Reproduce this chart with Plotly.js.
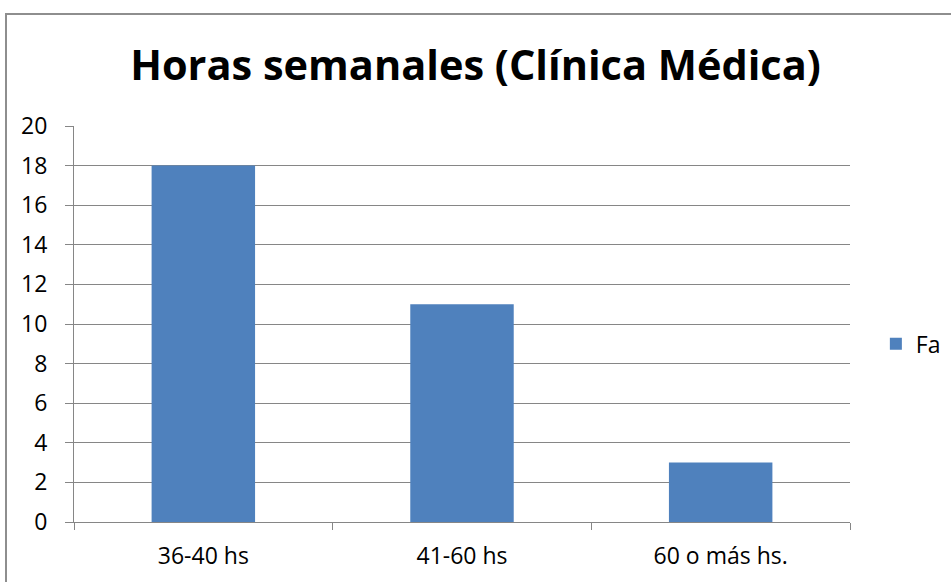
<!DOCTYPE html>
<html>
<head>
<meta charset="utf-8">
<script src="https://cdn.plot.ly/plotly-3.0.1.min.js"></script>
<style>
html,body{margin:0;padding:0;background:#fff;overflow:hidden;}
#wrap{position:relative;width:951px;height:582px;}
#chart{position:absolute;left:0;top:0;width:951px;height:582px;}
#frame{position:absolute;left:5px;top:13px;width:1000px;height:1000px;border:2px solid #8e8e8e;pointer-events:none;}
</style>
</head>
<body>
<div id="wrap">
<div id="chart"></div>
<div id="frame"></div>
</div>
<script>
const categories = ["36-40 hs", "41-60 hs", "60 o más hs."];
const faValues = [18, 11, 3];
const yTicks = [0, 2, 4, 6, 8, 10, 12, 14, 16, 18, 20];
const seriesName = "Fa";
const chartTitle = "Horas semanales (Clínica Médica)";

const fontFam = "Open Sans, Liberation Sans, sans-serif";

Plotly.newPlot("chart", [{
  type: "bar",
  x: categories,
  y: faValues,
  name: seriesName,
  marker: {color: "#4F81BD"},
  width: 0.4,
  showlegend: true
}], {
  width: 951, height: 582,
  paper_bgcolor: "rgba(0,0,0,0)",
  plot_bgcolor: "#fff",
  margin: {l: 74, r: 101, t: 126, b: 60, pad: 0},
  title: {
    text: "<b>" + chartTitle + "</b>",
    font: {family: fontFam, size: 41.5, color: "#000"},
    x: 0.5, xanchor: "center", xref: "container",
    y: 1 - 65/582, yref: "container", yanchor: "middle"
  },
  xaxis: {
    type: "category",
    tickson: "boundaries",
    ticks: "outside", ticklen: 7, tickcolor: "#868686", tickwidth: 1,
    showline: true, linecolor: "#868686", linewidth: 1,
    showgrid: false,
    tickfont: {family: fontFam, size: 23, color: "#000"},
    ticklabelstandoff: 13,
    fixedrange: true
  },
  yaxis: {
    range: [0, 20],
    tickmode: "array", tickvals: yTicks,
    ticks: "outside", ticklen: 8, tickcolor: "#868686", tickwidth: 1,
    showline: true, linecolor: "#868686", linewidth: 1,
    showgrid: true, gridcolor: "#868686", gridwidth: 1,
    zeroline: false,
    tickfont: {family: fontFam, size: 23, color: "#000"},
    ticklabelstandoff: 13,
    fixedrange: true
  },
  legend: {
    x: 0.921, xref: "container", xanchor: "left",
    y: 0.45, yref: "paper", yanchor: "middle",
    font: {family: fontFam, size: 23, color: "#000"},
    bgcolor: "rgba(0,0,0,0)",
    itemwidth: 30
  },
  bargap: 0.6
}, {displayModeBar: false, staticPlot: true});
</script>
</body>
</html>
